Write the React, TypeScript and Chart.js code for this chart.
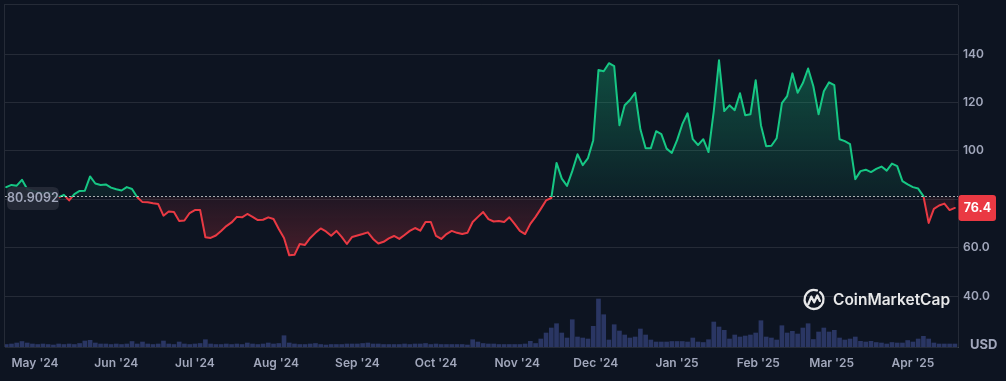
import React, { useEffect, useRef } from 'react';
import { Chart, registerables } from 'chart.js';

Chart.register(...registerables);

// ---------- data ----------
const START_DATE = new Date(2024, 3, 20); // first sample: 20 Apr 2024
const STEP_DAYS = 2; // one sample every two days
const BASE_PRICE = 80.9092;

const prices: number[] = [
  85.0, 85.9, 85.6, 88.0, 84.2, 83.5, 83.0, 82.5, 83.0, 82.0,
  80.7, 81.8, 79.5, 82.1, 83.4, 83.5, 89.4, 86.5, 85.9, 86.1,
  84.8, 84.1, 83.6, 85.0, 84.2, 80.8, 78.8, 78.7, 78.3, 78.0,
  73.2, 74.9, 74.7, 71.0, 71.2, 74.3, 75.5, 75.5, 64.3, 64.0,
  65.0, 66.9, 68.9, 70.4, 72.7, 72.5, 73.9, 72.7, 71.4, 71.5,
  72.5, 71.8, 67.7, 64.0, 56.8, 57.0, 61.5, 61.1, 64.0, 66.1,
  67.9, 66.7, 64.9, 66.9, 64.4, 61.5, 64.4, 65.0, 65.6, 66.3,
  63.6, 61.7, 62.4, 63.8, 64.8, 63.6, 65.2, 66.9, 68.1, 67.0,
  70.6, 70.6, 64.8, 63.6, 65.6, 66.9, 66.1, 65.6, 66.1, 70.6,
  72.7, 74.7, 71.8, 70.8, 71.0, 70.6, 72.5, 69.8, 66.9, 65.6,
  69.8, 72.7, 76.0, 79.5, 80.5, 95.0, 88.5, 85.5, 91.6, 98.6,
  94.1, 97.0, 104.4, 133.4, 132.9, 136.2, 135.0, 110.6, 118.8, 121.0,
  124.0, 108.9, 101.1, 101.1, 108.1, 106.9, 100.9, 99.1, 104.4, 111.0,
  115.5, 104.8, 102.4, 104.8, 99.5, 116.4, 137.4, 116.4, 118.8, 116.8,
  123.8, 114.7, 115.1, 129.2, 110.6, 101.9, 102.1, 105.2, 119.7, 122.6,
  132.0, 124.0, 128.0, 134.0, 126.7, 115.1, 124.6, 128.3, 127.1, 104.8,
  104.0, 102.8, 88.3, 91.6, 92.2, 91.2, 92.5, 93.5, 91.8, 94.7,
  93.7, 87.5, 86.1, 85.0, 84.4, 81.3, 70.2, 76.0, 77.4, 78.2,
  75.5, 76.4,
];

// 24h volume, millions USD
const volumes: number[] = [
  25, 30, 40, 55, 40, 30, 25, 30, 25, 20,
  30, 25, 30, 25, 35, 60, 67, 40, 30, 30,
  25, 30, 25, 30, 55, 30, 50, 30, 25, 30,
  60, 30, 25, 50, 30, 25, 30, 35, 73, 30,
  25, 25, 30, 25, 30, 25, 40, 30, 25, 30,
  40, 30, 35, 113, 40, 30, 25, 25, 30, 35,
  25, 20, 25, 25, 25, 30, 30, 30, 35, 40,
  30, 30, 25, 25, 25, 25, 30, 25, 30, 30,
  35, 25, 30, 25, 25, 25, 25, 25, 20, 73,
  50, 35, 30, 30, 25, 25, 25, 25, 25, 30,
  57, 35, 80, 140, 190, 233, 140, 90, 273, 100,
  90, 80, 207, 480, 323, 70, 223, 160, 120, 90,
  100, 180, 120, 70, 50, 50, 50, 55, 55, 55,
  50, 90, 50, 45, 73, 250, 200, 167, 80, 120,
  100, 110, 120, 140, 263, 100, 90, 70, 213, 140,
  157, 130, 190, 233, 75, 150, 190, 150, 167, 90,
  70, 80, 100, 57, 50, 57, 45, 40, 30, 45,
  40, 40, 65, 50, 80, 107, 80, 40, 30, 30,
  30, 30,
];

const monthLabels: string[] = [
  "May '24", "Jun '24", "Jul '24", "Aug '24", "Sep '24", "Oct '24",
  "Nov '24", "Dec '24", "Jan '25", "Feb '25", "Mar '25", "Apr '25",
];

const priceTicks: number[] = [40, 60, 80, 100, 120, 140];

// ---------- styles ----------
const BG = '#0d1421';
const GREEN = '#16c784';
const RED = '#ea3943';
const GRID = 'rgba(255,255,255,0.1)';
const LABEL = '#a1a7bb';
const FONT = 'Inter, "Noto Sans", sans-serif';

const DAY_MS = 86400000;
const monthStarts = monthLabels.map((_, i) =>
  Math.round((new Date(2024, 4 + i, 1).getTime() - START_DATE.getTime()) / DAY_MS)
);
const LAST_PRICE = prices[prices.length - 1];

function roundRect(ctx: CanvasRenderingContext2D, x: number, y: number, w: number, h: number, r: number) {
  ctx.beginPath();
  ctx.moveTo(x + r, y);
  ctx.lineTo(x + w - r, y);
  ctx.quadraticCurveTo(x + w, y, x + w, y + r);
  ctx.lineTo(x + w, y + h - r);
  ctx.quadraticCurveTo(x + w, y + h, x + w - r, y + h);
  ctx.lineTo(x + r, y + h);
  ctx.quadraticCurveTo(x, y + h, x, y + h - r);
  ctx.lineTo(x, y + r);
  ctx.quadraticCurveTo(x, y, x + r, y);
  ctx.closePath();
}

const zeroPad = (s: any) => {
  s.paddingTop = 0;
  s.paddingBottom = 0;
  s.paddingLeft = 0;
  s.paddingRight = 0;
};

const framePlugin = {
  id: 'frame',
  beforeDatasetsDraw(chart: any) {
    const { ctx, chartArea: a } = chart;
    ctx.save();
    ctx.strokeStyle = GRID;
    ctx.lineWidth = 1;
    ctx.beginPath();
    ctx.moveTo(a.left - 0.5, a.bottom);
    ctx.lineTo(a.left - 0.5, a.top - 0.5);
    ctx.lineTo(a.right, a.top - 0.5);
    ctx.stroke();
    ctx.restore();
  },
  afterDatasetsDraw(chart: any) {
    const { ctx, chartArea: a, scales } = chart;
    const by = Math.round(scales.y.getPixelForValue(BASE_PRICE)) - 0.5;
    ctx.save();
    ctx.strokeStyle = 'rgba(255,255,255,0.65)';
    ctx.lineWidth = 1;
    ctx.setLineDash([2, 2]);
    ctx.beginPath();
    ctx.moveTo(a.left, by);
    ctx.lineTo(a.right, by);
    ctx.stroke();
    ctx.restore();
  },
  afterDraw(chart: any) {
    const { ctx, chartArea: a, scales } = chart;
    const ys = scales.y;
    ctx.save();
    // base price badge
    const by = ys.getPixelForValue(BASE_PRICE);
    roundRect(ctx, a.left + 2, by - 10, 52, 23, 6);
    ctx.fillStyle = 'rgba(38,43,56,0.92)';
    ctx.fill();
    ctx.fillStyle = LABEL;
    ctx.font = `600 12.5px ${FONT}`;
    ctx.textAlign = 'center';
    ctx.textBaseline = 'middle';
    ctx.fillText(BASE_PRICE.toString(), a.left + 28, by + 1.5);

    // last price badge
    const ly = ys.getPixelForValue(LAST_PRICE);
    roundRect(ctx, a.right + 0.5, ly - 13, 37.5, 26, 3);
    ctx.fillStyle = LAST_PRICE < BASE_PRICE ? RED : GREEN;
    ctx.fill();
    ctx.fillStyle = '#ffffff';
    ctx.font = `700 12.5px ${FONT}`;
    ctx.fillText(LAST_PRICE.toFixed(1), a.right + 19.5, ly + 0.5);

    // currency label
    ctx.fillStyle = LABEL;
    ctx.font = `700 13px ${FONT}`;
    ctx.textAlign = 'left';
    ctx.fillText('USD', a.right + 12, a.bottom - 2);

    // watermark
    const cx = 814, cy = 299.5, r = 9.5;
    ctx.strokeStyle = 'rgba(255,255,255,0.9)';
    ctx.lineWidth = 2.3;
    ctx.lineCap = 'round';
    ctx.lineJoin = 'round';
    ctx.beginPath();
    ctx.arc(cx, cy, r, -Math.PI * 0.28, Math.PI * 1.6, false);
    ctx.stroke();
    ctx.beginPath();
    ctx.moveTo(cx - r * 0.6, cy + r * 0.5);
    ctx.lineTo(cx - r * 0.28, cy - r * 0.3);
    ctx.lineTo(cx + r * 0.02, cy + r * 0.3);
    ctx.lineTo(cx + r * 0.35, cy - r * 0.42);
    ctx.lineTo(cx + r * 0.62, cy + r * 0.15);
    ctx.stroke();
    ctx.fillStyle = 'rgba(255,255,255,0.9)';
    ctx.font = `600 15.5px ${FONT}`;
    ctx.textAlign = 'left';
    ctx.textBaseline = 'middle';
    ctx.fillText('CoinMarketCap', 833, 300);
    ctx.restore();
  },
};

export default function App() {
  const ref = useRef<HTMLCanvasElement | null>(null);

  useEffect(() => {
    document.body.style.margin = '0';
    document.body.style.background = BG;
    const canvas = ref.current;
    if (!canvas) return;

    const pricePoints = prices.map((p, i) => ({ x: i * STEP_DAYS, y: p }));
    const volumePoints = volumes.map((v, i) => ({ x: i * STEP_DAYS, y: v }));

    const chart = new Chart(canvas, {
      type: 'line',
      data: {
        datasets: [
          {
            type: 'line',
            data: pricePoints,
            yAxisID: 'y',
            borderColor: GREEN,
            borderWidth: 2,
            borderJoinStyle: 'round',
            borderCapStyle: 'round',
            pointRadius: 0,
            tension: 0,
            fill: { target: { value: BASE_PRICE }, above: 'rgba(22,199,132,0.2)', below: 'rgba(234,57,67,0.15)' },
            order: 0,
          } as any,
          {
            type: 'bar',
            data: volumePoints,
            yAxisID: 'v',
            backgroundColor: '#2a3663',
            barThickness: 4,
            order: 1,
          } as any,
        ],
      },
      options: {
        animation: false,
        responsive: false,
        devicePixelRatio: 1,
        layout: { padding: { left: 5, top: 5, right: 0, bottom: 0 } },
        plugins: { legend: { display: false }, tooltip: { enabled: false } },
        scales: {
          x: {
            type: 'linear',
            offset: false,
            min: -0.47,
            max: 363.2,
            grid: { display: false, offset: false },
            border: { display: true, color: GRID },
            afterBuildTicks: (s: any) => {
              s.ticks = monthStarts.map((v) => ({ value: v }));
            },
            afterFit: (s: any) => {
              s.height = 34;
              zeroPad(s);
            },
            ticks: {
              autoSkip: false,
              maxRotation: 0,
              padding: 1,
              color: LABEL,
              font: { family: FONT, size: 12, weight: '600' },
              callback: (v: any) => {
                const i = monthStarts.indexOf(Number(v));
                return i >= 0 ? monthLabels[i] : '';
              },
            },
          },
          y: {
            type: 'linear',
            position: 'right',
            min: 18.93,
            max: 160.25,
            afterBuildTicks: (s: any) => {
              s.ticks = priceTicks.map((v) => ({ value: v }));
            },
            afterFit: (s: any) => {
              s.width = 48;
              zeroPad(s);
            },
            grid: { color: GRID, drawTicks: false },
            border: { display: true, color: GRID },
            ticks: {
              padding: 5,
              color: LABEL,
              font: { family: FONT, size: 12, weight: '600' },
              // the label under the last-price badge is hidden
              callback: (v: any) => {
                const n = Number(v);
                if (Math.abs(n - LAST_PRICE) < 6) return '';
                return n >= 100 ? String(n) : n.toFixed(1);
              },
            },
          },
          v: {
            type: 'linear',
            display: false,
            min: 0,
            max: 3420,
          },
        },
      } as any,
      plugins: [framePlugin],
    });

    // second pass: gradients that depend on the laid-out scales
    const a = chart.chartArea;
    const ys: any = chart.scales.y;
    const ctx = chart.ctx;
    const baseY = ys.getPixelForValue(BASE_PRICE);
    const f = Math.min(1, Math.max(0, (baseY - a.top) / (a.bottom - a.top)));
    const lineGrad = ctx.createLinearGradient(0, a.top, 0, a.bottom);
    lineGrad.addColorStop(0, GREEN);
    lineGrad.addColorStop(f, GREEN);
    lineGrad.addColorStop(f, RED);
    lineGrad.addColorStop(1, RED);
    const topY = ys.getPixelForValue(Math.max(...prices));
    const botY = ys.getPixelForValue(Math.min(...prices));
    const gGrad = ctx.createLinearGradient(0, topY, 0, baseY);
    gGrad.addColorStop(0, 'rgba(22,199,132,0.32)');
    gGrad.addColorStop(1, 'rgba(22,199,132,0.07)');
    const rGrad = ctx.createLinearGradient(0, baseY, 0, botY);
    rGrad.addColorStop(0, 'rgba(234,57,67,0.09)');
    rGrad.addColorStop(1, 'rgba(234,57,67,0.26)');
    const ds: any = chart.data.datasets[0];
    ds.borderColor = lineGrad;
    ds.fill = { target: { value: BASE_PRICE }, above: gGrad, below: rGrad };
    chart.update('none');

    return () => {
      chart.destroy();
    };
  }, []);

  return (
    <div style={{ position: 'fixed', left: 0, top: 0, width: 1006, height: 381, background: BG }}>
      <canvas ref={ref} width={1006} height={381} style={{ display: 'block', width: 1006, height: 381 }} />
    </div>
  );
}
